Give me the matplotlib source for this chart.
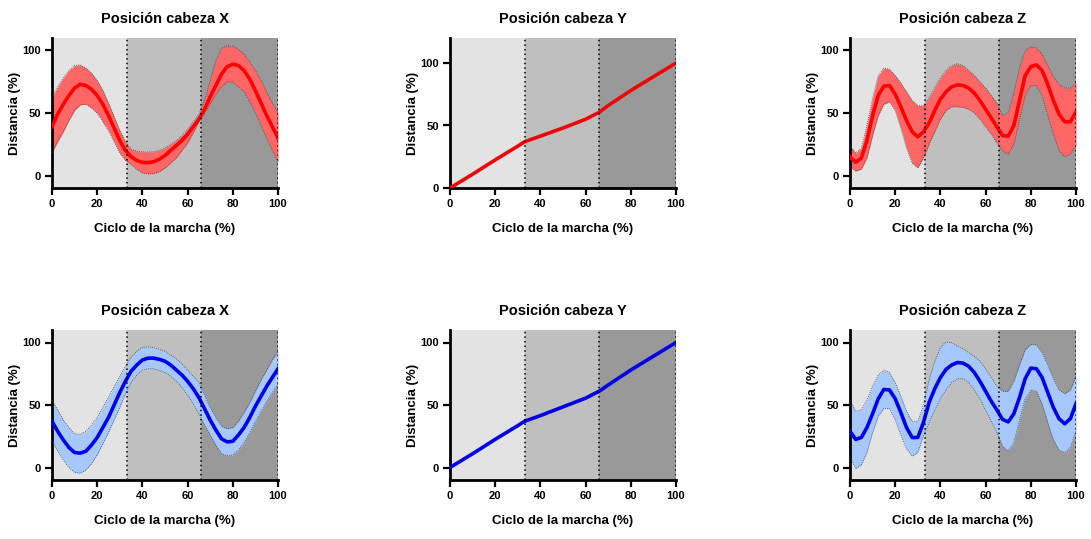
import numpy as np
import matplotlib
matplotlib.use('Agg')
import matplotlib.pyplot as plt

plt.rcParams['font.family'] = ['Liberation Sans', 'DejaVu Sans']
plt.rcParams['font.weight'] = 'bold'

# ---- data ----
x25 = [i * 2.5 for i in range(41)]
x_y = [0, 10, 20, 30, 33, 40, 50, 60, 66, 70, 80, 90, 100]

# top row (red)
red_x_mean = [39, 49, 57, 64, 70, 73, 72, 69, 64, 57, 48, 38, 28, 20, 15, 12, 10.5, 10.3, 11, 13,
              16, 20, 24, 28, 33, 39, 45, 53, 63, 72, 81, 87, 89, 88, 84, 77, 68, 58, 48, 39, 30]
red_x_up = [62, 71, 78, 84, 88, 88.5, 86, 82, 76, 68, 58, 47, 36, 27, 21, 19.5, 19, 18.8, 19, 20,
            22, 25, 28, 32, 37, 43, 49, 60, 76, 92, 102, 104, 103.5, 101, 97, 91, 84, 76, 67, 58, 50]
red_x_lo = [18, 27, 35, 44, 52, 56.5, 57, 54, 50, 43, 36, 27, 18, 12, 9, 5, 2, 1.3, 1.5, 3,
            6, 10, 14, 20, 26, 34, 43, 50, 57, 65, 71, 75, 74.5, 71, 67, 59, 50, 40, 30, 20, 11]

red_y_mean = [0, 11, 22.5, 33.5, 37, 41.5, 48, 55, 60.5, 66, 78, 89, 100]

red_z_mean = [15, 10.5, 14, 28, 48, 64, 71.5, 72, 65, 55, 44, 35, 31, 35, 42, 52, 61, 67, 71, 72.5,
              72, 70, 66, 60, 53, 46, 39, 32, 31.5, 40, 60, 80, 87, 88.5, 84, 73, 60, 49, 43, 43, 51]
red_z_up = [24, 18, 22, 40, 62, 80, 86, 85, 80, 74, 67, 60, 56, 56, 62, 70, 78, 84, 88, 89.5,
            88, 84, 80, 75, 70, 64, 58, 48, 50, 66, 86, 100, 103, 102, 97, 88, 79, 73, 70, 70, 74]
red_z_lo = [7, 3.5, 5, 14, 32, 48, 57, 59, 52, 38, 22, 10, 6, 14, 25, 35, 45, 52, 55, 55,
            54.5, 53, 50, 45, 39, 33, 26, 20, 17, 25, 45, 64, 72, 72, 64, 48, 33, 20, 15, 17, 24]

# bottom row (blue)
blue_x_mean = [37, 29, 22, 16, 12, 11.5, 13, 18, 24, 32, 40, 50, 60, 69, 77, 82, 86, 87.5, 87.5, 86.5,
               85, 82, 78, 74, 69, 63, 56, 47, 38, 30, 23, 20.5, 21, 26, 32, 40, 49, 57, 65, 72, 79]
blue_x_up = [54, 46, 38, 32, 27, 26.5, 29, 34, 40, 48, 56, 65, 73, 81, 88, 93, 96, 96.5, 96, 94.5,
             93, 90, 87, 83, 78, 73, 68, 58, 48, 40, 33, 31, 32, 37, 44, 52, 61, 70, 78, 86, 93]
blue_x_lo = [21, 13, 6, 0, -4, -4.5, -2, 3, 10, 19, 28, 38, 48, 59, 68, 74, 78, 79, 79, 77.5,
             76, 73, 69, 64, 58, 51, 43, 34, 26, 18, 11, 9.5, 10, 14, 20, 28, 37, 45, 53, 60, 67]

blue_y_mean = [0, 11, 22.5, 33.5, 37, 41.5, 48.5, 55.5, 61, 66, 78, 89, 100]

blue_z_mean = [29, 22.5, 24, 32, 43, 55, 62.5, 62, 55, 44, 32, 24, 24, 36, 52, 63, 72, 78.5, 82, 84,
               83.5, 81, 76, 69, 61, 53, 46, 38.5, 36.5, 43, 56, 71, 79.5, 79, 72, 60, 48, 39, 35, 39, 51]
blue_z_up = [54, 45, 46, 54, 65, 74, 78, 76, 68, 57, 45, 37, 37, 50, 70, 85, 96, 100.5, 100, 97,
             95, 92, 89, 85, 79, 72, 65, 61, 61, 69, 82, 94, 98.5, 98, 92, 82, 71, 62, 59, 62, 73]
blue_z_lo = [9, -1, 2, 12, 28, 41, 47.5, 47, 38, 26, 15, 9, 12, 25, 36, 46, 55, 62, 68, 71,
             71, 68, 62, 55, 46, 37, 28, 17, 13, 20, 38, 55, 62, 61, 51, 36, 22, 14, 12, 16, 29]

titles = ['Posición cabeza X', 'Posición cabeza Y', 'Posición cabeza Z']
phases = [0, 33, 66, 100]
phase_colors = ['#e3e3e3', '#bfbfbf', '#999999']

RED = '#ff0000'
RED_FILL = '#ff6666'
BLUE = '#0000e6'
BLUE_FILL = '#a6c8ff'

fig = plt.figure(figsize=(10.91, 5.39), dpi=100)

lefts = [52, 450, 850]
tops = [38, 330]
W, H = 1091, 539


def make_ax(col, row):
    l = lefts[col] / W
    b = 1 - (tops[row] + 150) / H
    return fig.add_axes([l, b, 226 / W, 150 / H])


def style(ax, title, ylim):
    for i in range(3):
        ax.axvspan(phases[i], phases[i + 1], color=phase_colors[i], lw=0, zorder=0)
    for p in phases[1:]:
        ax.axvline(p, color='black', ls=(0, (1, 2)), lw=1.1, zorder=5)
    ax.set_xlim(0, 100)
    ax.set_ylim(*ylim)
    ax.set_xticks([0, 20, 40, 60, 80, 100])
    ax.set_yticks([0, 50, 100])
    for s in ['top', 'right']:
        ax.spines[s].set_visible(False)
    for s in ['left', 'bottom']:
        ax.spines[s].set_linewidth(2)
    ax.tick_params(width=1.6, length=5, labelsize=8, pad=3)
    for lab in ax.get_xticklabels() + ax.get_yticklabels():
        lab.set_fontweight('bold')
    ax.set_title(title, fontsize=10.5, fontweight='bold', pad=11)
    ax.set_xlabel('Ciclo de la marcha (%)', fontsize=9.5, fontweight='bold', labelpad=10)
    ax.set_ylabel('Distancia (%)', fontsize=9.5, fontweight='bold', labelpad=1)


def band(ax, x, mean, lo, up, line_c, fill_c):
    ax.fill_between(x, lo, up, color=fill_c, lw=0, zorder=2)
    ax.plot(x, up, color='#444444', ls=(0, (1, 1.5)), lw=0.6, zorder=3)
    ax.plot(x, lo, color='#444444', ls=(0, (1, 1.5)), lw=0.6, zorder=3)
    ax.plot(x, mean, color=line_c, lw=2.6, zorder=4, solid_joinstyle='round')


# top row
ax = make_ax(0, 0)
band(ax, x25, red_x_mean, red_x_lo, red_x_up, RED, RED_FILL)
style(ax, titles[0], (-10, 110))

ax = make_ax(1, 0)
ax.plot(x_y, red_y_mean, color=RED, lw=2.6, zorder=4, solid_joinstyle='round')
ax.plot(x_y, red_y_mean, color='#444444', ls=(0, (1, 1.5)), lw=0.5, zorder=4)
style(ax, titles[1], (0, 120))

ax = make_ax(2, 0)
band(ax, x25, red_z_mean, red_z_lo, red_z_up, RED, RED_FILL)
style(ax, titles[2], (-10, 110))

# bottom row
ax = make_ax(0, 1)
band(ax, x25, blue_x_mean, blue_x_lo, blue_x_up, BLUE, BLUE_FILL)
style(ax, titles[0], (-10, 110))

ax = make_ax(1, 1)
ax.plot(x_y, blue_y_mean, color=BLUE, lw=2.6, zorder=4, solid_joinstyle='round')
style(ax, titles[1], (-10, 110))

ax = make_ax(2, 1)
band(ax, x25, blue_z_mean, blue_z_lo, blue_z_up, BLUE, BLUE_FILL)
style(ax, titles[2], (-10, 110))

fig.savefig('out.png', dpi=100)
